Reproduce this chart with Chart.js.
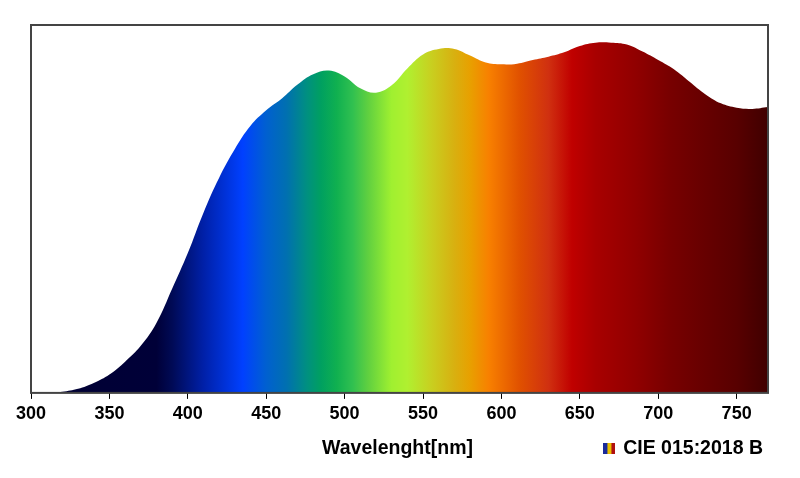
<!DOCTYPE html>
<html>
<head>
<meta charset="utf-8">
<script src="https://cdn.jsdelivr.net/npm/chart.js@4.4.1/dist/chart.umd.min.js"></script>
<style>
  html, body { margin: 0; padding: 0; background: #fff; }
  #wrap { width: 800px; height: 478px; }
</style>
</head>
<body>
<div id="wrap"><canvas id="spectrumChart"></canvas></div>
<script>
// Spectrum data (relative power)
const wavelengths = [300, 310, 320, 330, 340, 350, 360, 370, 380, 390,
  400, 410, 420, 430, 440, 450, 460, 470, 480, 490,
  500, 510, 520, 530, 540, 550, 560, 570, 580, 590,
  600, 610, 620, 630, 640, 650, 660, 670, 680, 690,
  700, 710, 720, 730, 740, 750, 760, 770];
const intensities = [0, 0, 0.003, 0.011, 0.027, 0.05, 0.085, 0.128, 0.19, 0.283,
  0.38, 0.49, 0.585, 0.663, 0.726, 0.768, 0.8, 0.838, 0.866, 0.876,
  0.86, 0.828, 0.816, 0.836, 0.882, 0.92, 0.935, 0.935, 0.917, 0.898,
  0.893, 0.895, 0.905, 0.914, 0.926, 0.943, 0.952, 0.952, 0.947, 0.928,
  0.905, 0.88, 0.846, 0.812, 0.787, 0.775, 0.772, 0.777];
const seriesLabel = 'CIE 015:2018 B';
const axisTitle = 'Wavelenght[nm]';

// colour of the spectrum at a given wavelength
const stopNm = [300, 380, 390, 410, 435, 450, 463, 476, 485, 495, 505, 515, 530, 540,
  555, 570, 580, 592, 612, 630, 645, 660, 686, 707, 728, 750, 770];
const stopColors = ['#000033', '#000038', '#000a55', '#0020a8', '#0040ff', '#0060d0', '#0070b0',
  '#009080', '#00a060', '#10b050', '#30c050', '#60d040', '#a0f030', '#b0f030', '#c8d020',
  '#d8b010', '#e8a000', '#f88000', '#e05000', '#d03010', '#c00000', '#a80000', '#900000',
  '#780000', '#680000', '#580000', '#400000'];

const FONT = { family: '"Liberation Sans", Arial, sans-serif', size: 18, weight: 'bold' };
const BIG_FONT = { family: '"Liberation Sans", Arial, sans-serif', size: 19.5, weight: 'bold' };

// little striped legend icon
const icon = document.createElement('canvas');
icon.width = 12; icon.height = 11;
const ic = icon.getContext('2d');
ic.fillStyle = '#1a2a9a'; ic.fillRect(0, 0, 4, 11);
ic.fillStyle = '#e8c000'; ic.fillRect(4, 0, 4, 11);
ic.fillStyle = '#b01010'; ic.fillRect(8, 0, 4, 11);

function spectrumFill(context) {
  const chart = context.chart;
  const { ctx, chartArea, scales } = chart;
  if (!chartArea) return null;
  const x0 = scales.x.getPixelForValue(300);
  const x1 = scales.x.getPixelForValue(770);
  const g = ctx.createLinearGradient(x0, 0, x1, 0);
  stopNm.forEach((nm, i) => g.addColorStop((nm - 300) / 470, stopColors[i]));
  return g;
}

const framePlugin = {
  id: 'frame',
  afterLayout(chart) {
    // nudge legend a bit to the right, like the original
    if (chart.legend) {
      chart.legend.left += 5;
      chart.legend.right += 5;
    }
  },
  afterDatasetsDraw(chart) {
    const { ctx, chartArea: a } = chart;
    ctx.save();
    ctx.strokeStyle = '#444';
    ctx.lineWidth = 2;
    ctx.strokeRect(a.left, a.top, a.right - a.left, a.bottom - a.top);
    ctx.restore();
  },
  afterDraw(chart) {
    // axis title sits on the same line as the legend
    const { ctx, chartArea: a } = chart;
    const hb = chart.legend && chart.legend.legendHitBoxes && chart.legend.legendHitBoxes[0];
    const y = hb ? hb.top + hb.height / 2 : 448;
    ctx.save();
    ctx.font = `${BIG_FONT.weight} ${BIG_FONT.size}px ${BIG_FONT.family}`;
    ctx.fillStyle = '#000';
    ctx.textAlign = 'center';
    ctx.textBaseline = 'middle';
    ctx.fillText(axisTitle, (a.left + a.right) / 2 - 2, y);
    ctx.restore();
  }
};

new Chart(document.getElementById('spectrumChart'), {
  type: 'line',
  data: {
    datasets: [{
      label: seriesLabel,
      data: wavelengths.map((w, i) => ({ x: w, y: intensities[i] })),
      fill: 'origin',
      backgroundColor: spectrumFill,
      borderWidth: 0,
      borderColor: 'rgba(0,0,0,0)',
      pointRadius: 0,
      tension: 0.4
    }]
  },
  options: {
    responsive: true,
    maintainAspectRatio: false,
    animation: false,
    layout: { padding: { top: 25, left: 31, right: 32, bottom: 10 } },
    plugins: {
      tooltip: { enabled: false },
      legend: {
        position: 'bottom',
        align: 'end',
        labels: {
          font: BIG_FONT,
          color: '#000',
          usePointStyle: true,
          pointStyle: icon,
          boxWidth: 8,
          padding: 10
        }
      }
    },
    scales: {
      x: {
        type: 'linear',
        min: 300,
        max: 770,
        border: { display: true, color: '#000', width: 1 },
        grid: { display: true, drawOnChartArea: false, drawTicks: true, tickLength: 6, color: '#000' },
        ticks: { stepSize: 50, includeBounds: false, font: FONT, color: '#000', padding: 4 }
      },
      y: { display: false, min: 0, max: 1 }
    }
  },
  plugins: [framePlugin]
});
</script>
</body>
</html>
